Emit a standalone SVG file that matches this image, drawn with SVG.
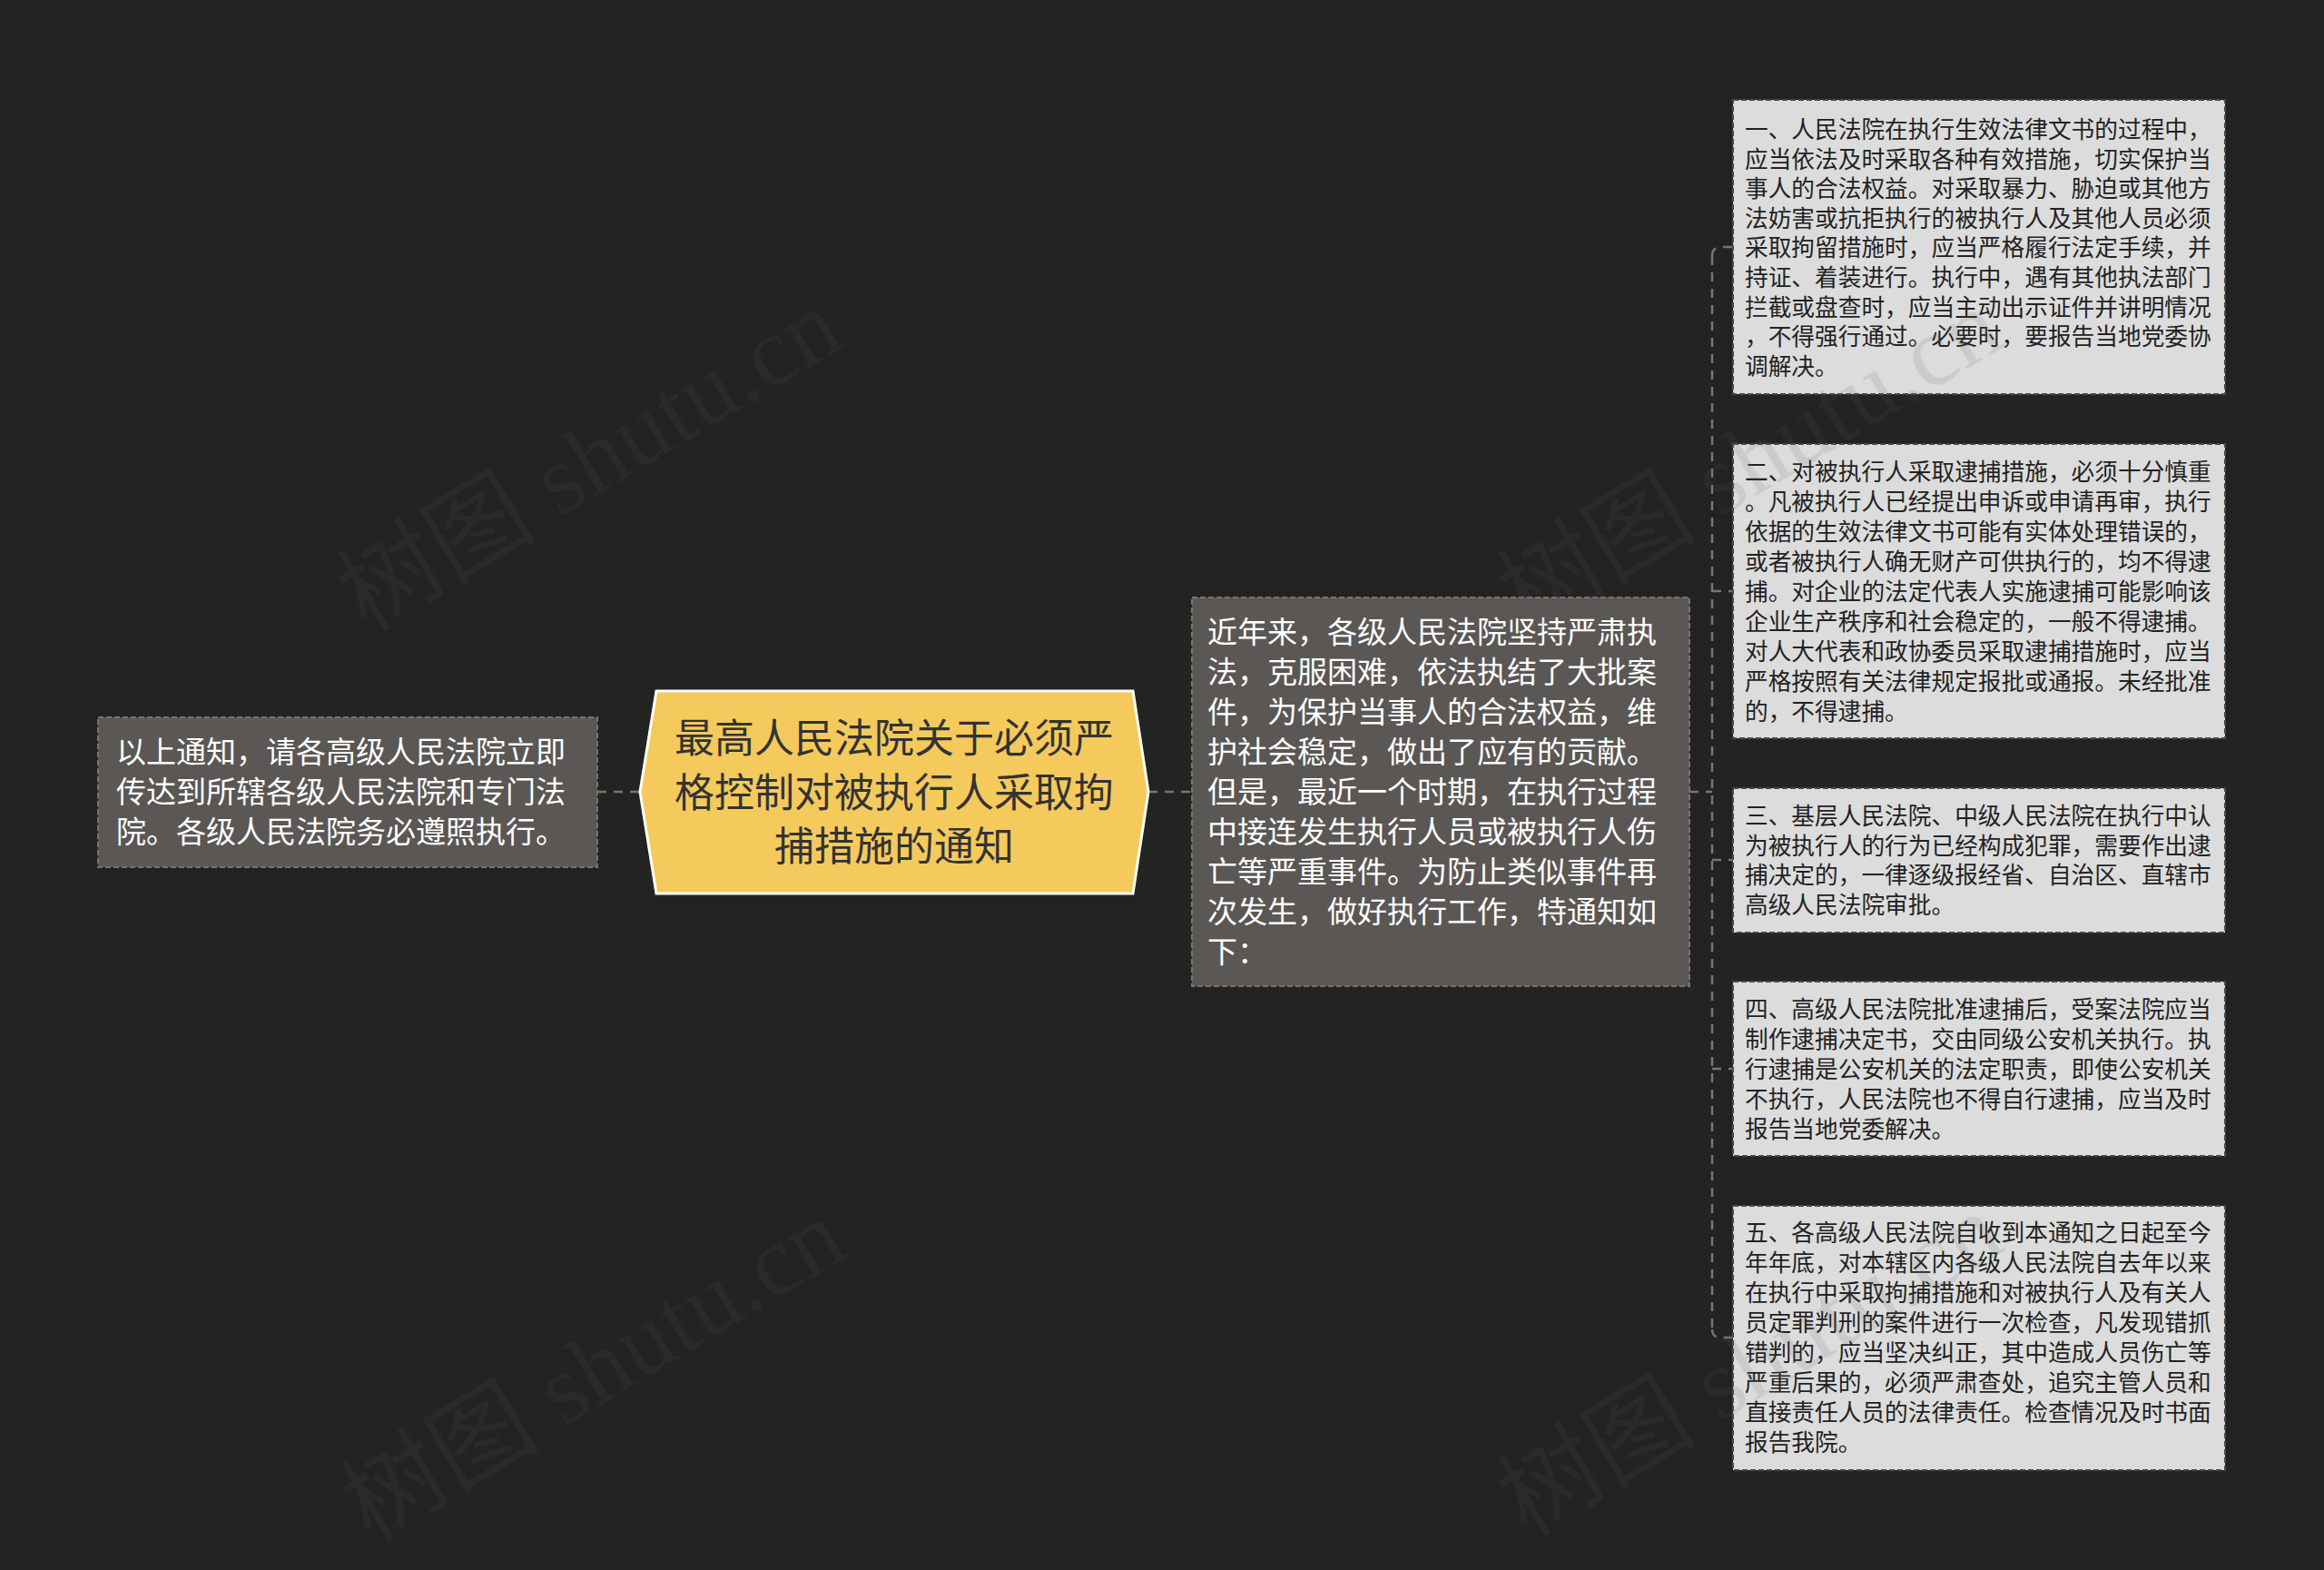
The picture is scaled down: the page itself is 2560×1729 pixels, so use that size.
<svg xmlns="http://www.w3.org/2000/svg" width="2560" height="1729" viewBox="0 0 2560 1729">
<style>
.bg{fill:#232321}
.dark{fill:#5a5755;stroke:#77736f;stroke-width:2;stroke-dasharray:6 3}
.light{fill:#dcdcdc;stroke:#4a4a4a;stroke-width:2;stroke-dasharray:6 3}
.conn{fill:none;stroke:#767676;stroke-width:2.5;stroke-dasharray:10 8}
.t{font-family:"Noto Sans CJK SC","Noto Sans",sans-serif}
.tw{fill:#ffffff;font-size:33px}
.tb{fill:#222222;font-size:25.7px}
.tc{fill:#333333;font-size:44px}
.wm{font-family:"Liberation Serif","Noto Sans CJK SC",serif;font-size:110px;fill:#5a5a5a;fill-opacity:0.13}
</style>
<rect class="bg" x="0" y="0" width="2560" height="1729"/>

<g id="connectors">
<path class="conn" d="M658 872 H705"/>
<path class="conn" d="M1265 872 H1313"/>
<path class="conn" d="M1861 872 H1886"/>
<path class="conn" d="M1886 282 V1464"/>
<path class="conn" d="M1886 282 Q1886 272 1896 272 H1909"/>
<path class="conn" d="M1886 651 H1909"/>
<path class="conn" d="M1886 947 H1909"/>
<path class="conn" d="M1886 1177 H1909"/>
<path class="conn" d="M1886 1464 Q1886 1473 1896 1473 H1909"/>
</g>

<g id="center">
<polygon points="705,872 723,761 1248,761 1265,872 1248,984 723,984" fill="#f4ca5c" stroke="#ffffff" stroke-width="3"/>
<text class="t tc" text-anchor="middle"><tspan x="985" y="829">最高人民法院关于必须严</tspan><tspan x="985" y="889">格控制对被执行人采取拘</tspan><tspan x="985" y="948">捕措施的通知</tspan></text>
</g>

<g id="left">
<rect class="dark" x="108" y="790" width="550" height="165"/>
<text class="t tw"><tspan x="128" y="840">以上通知，请各高级人民法院立即</tspan><tspan x="128" y="884">传达到所辖各级人民法院和专门法</tspan><tspan x="128" y="928">院。各级人民法院务必遵照执行。</tspan></text>
</g>

<g id="intro">
<rect class="dark" x="1313" y="658" width="548" height="428"/>
<text class="t tw"><tspan x="1330" y="708">近年来，各级人民法院坚持严肃执</tspan><tspan x="1330" y="752">法，克服困难，依法执结了大批案</tspan><tspan x="1330" y="796">件，为保护当事人的合法权益，维</tspan><tspan x="1330" y="840">护社会稳定，做出了应有的贡献。</tspan><tspan x="1330" y="884">但是，最近一个时期，在执行过程</tspan><tspan x="1330" y="928">中接连发生执行人员或被执行人伤</tspan><tspan x="1330" y="972">亡等严重事件。为防止类似事件再</tspan><tspan x="1330" y="1016">次发生，做好执行工作，特通知如</tspan><tspan x="1330" y="1060">下：</tspan></text>
</g>

<g id="item1">
<rect class="light" x="1909" y="110" width="542" height="324"/>
<text class="t tb"><tspan x="1922" y="152">一、人民法院在执行生效法律文书的过程中，</tspan><tspan x="1922" y="185">应当依法及时采取各种有效措施，切实保护当</tspan><tspan x="1922" y="217">事人的合法权益。对采取暴力、胁迫或其他方</tspan><tspan x="1922" y="250">法妨害或抗拒执行的被执行人及其他人员必须</tspan><tspan x="1922" y="282">采取拘留措施时，应当严格履行法定手续，并</tspan><tspan x="1922" y="315">持证、着装进行。执行中，遇有其他执法部门</tspan><tspan x="1922" y="348">拦截或盘查时，应当主动出示证件并讲明情况</tspan><tspan x="1922" y="380">，不得强行通过。必要时，要报告当地党委协</tspan><tspan x="1922" y="413">调解决。</tspan></text>
</g>

<g id="item2">
<rect class="light" x="1909" y="489" width="542" height="324"/>
<text class="t tb"><tspan x="1922" y="529">二、对被执行人采取逮捕措施，必须十分慎重</tspan><tspan x="1922" y="562">。凡被执行人已经提出申诉或申请再审，执行</tspan><tspan x="1922" y="595">依据的生效法律文书可能有实体处理错误的，</tspan><tspan x="1922" y="628">或者被执行人确无财产可供执行的，均不得逮</tspan><tspan x="1922" y="661">捕。对企业的法定代表人实施逮捕可能影响该</tspan><tspan x="1922" y="694">企业生产秩序和社会稳定的，一般不得逮捕。</tspan><tspan x="1922" y="727">对人大代表和政协委员采取逮捕措施时，应当</tspan><tspan x="1922" y="760">严格按照有关法律规定报批或通报。未经批准</tspan><tspan x="1922" y="793">的，不得逮捕。</tspan></text>
</g>

<g id="item3">
<rect class="light" x="1909" y="868" width="542" height="159"/>
<text class="t tb"><tspan x="1922" y="908">三、基层人民法院、中级人民法院在执行中认</tspan><tspan x="1922" y="941">为被执行人的行为已经构成犯罪，需要作出逮</tspan><tspan x="1922" y="973">捕决定的，一律逐级报经省、自治区、直辖市</tspan><tspan x="1922" y="1006">高级人民法院审批。</tspan></text>
</g>

<g id="item4">
<rect class="light" x="1909" y="1081" width="542" height="192"/>
<text class="t tb"><tspan x="1922" y="1121">四、高级人民法院批准逮捕后，受案法院应当</tspan><tspan x="1922" y="1154">制作逮捕决定书，交由同级公安机关执行。执</tspan><tspan x="1922" y="1187">行逮捕是公安机关的法定职责，即使公安机关</tspan><tspan x="1922" y="1220">不执行，人民法院也不得自行逮捕，应当及时</tspan><tspan x="1922" y="1253">报告当地党委解决。</tspan></text>
</g>

<g id="item5">
<rect class="light" x="1909" y="1328" width="542" height="291"/>
<text class="t tb"><tspan x="1922" y="1367">五、各高级人民法院自收到本通知之日起至今</tspan><tspan x="1922" y="1400">年年底，对本辖区内各级人民法院自去年以来</tspan><tspan x="1922" y="1433">在执行中采取拘捕措施和对被执行人及有关人</tspan><tspan x="1922" y="1466">员定罪判刑的案件进行一次检查，凡发现错抓</tspan><tspan x="1922" y="1499">错判的，应当坚决纠正，其中造成人员伤亡等</tspan><tspan x="1922" y="1532">严重后果的，必须严肃查处，追究主管人员和</tspan><tspan x="1922" y="1565">直接责任人员的法律责任。检查情况及时书面</tspan><tspan x="1922" y="1598">报告我院。</tspan></text>
</g>

<g id="watermarks">
<text class="wm" text-anchor="middle" y="38" transform="translate(649,506) rotate(-31)">树图 shutu.cn</text>
<text class="wm" text-anchor="middle" y="38" transform="translate(653,1508) rotate(-31)">树图 shutu.cn</text>
<text class="wm" text-anchor="middle" y="38" transform="translate(1927,506) rotate(-31)">树图 shutu.cn</text>
<text class="wm" text-anchor="middle" y="38" transform="translate(1927,1502) rotate(-31)">树图 shutu.cn</text>
</g>
</svg>
